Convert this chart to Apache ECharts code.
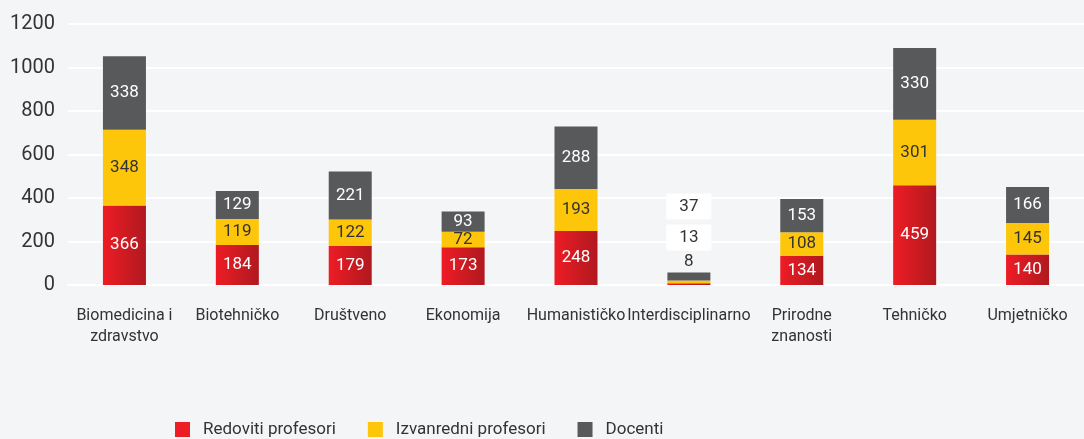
<html>
<head>
<meta charset="UTF-8">
<script src="https://cdn.jsdelivr.net/npm/echarts@6/dist/echarts.min.js"></script>
</head>
<body style="margin:0">
	<div id="barEcharts" style="height: 439px; width: 1084px"></div>
</body>
<script>
	var categories = ['Biomedicina i\nzdravstvo', 'Biotehničko', 'Društveno', 'Ekonomija', 'Humanističko',
			'Interdisciplinarno', 'Prirodne\nznanosti', 'Tehničko', 'Umjetničko'];
	var redoviti = [366, 184, 179, 173, 248, 8, 134, 459, 140];
	var izvanredni = [348, 119, 122, 72, 193, 13, 108, 301, 145];
	var docenti = [338, 129, 221, 93, 288, 37, 153, 330, 166];
	var yTicks = [0, 200, 400, 600, 800, 1000, 1200];

	var fontFamily = '"Liberation Sans Narrow", Roboto, sans-serif';
	// the small category gets its labels stacked above the bar
	var smallIdx = 5;

	function buildData(values, offsetY, boxed) {
		return values.map(function(v, i) {
			if (i !== smallIdx) return v;
			var lbl = {
				position : [ '50%', offsetY ],
				align : 'center',
				verticalAlign : 'middle',
				color : '#333'
			};
			if (boxed) {
				lbl.backgroundColor = '#ffffff';
				lbl.padding = [ 5, 13, 4, 13 ];
			}
			return { value : v, label : lbl };
		});
	}

	var barEcharts = echarts.init(document.getElementById('barEcharts'));
	var option = {
		backgroundColor : '#f4f5f6',
		textStyle : { fontFamily : fontFamily },
		grid : { left : 68, right : 0, top : 24, bottom : 154 },
		legend : {
			left : 170,
			bottom : -4,
			itemWidth : 15,
			itemHeight : 15,
			itemGap : 32,
			icon : 'rect',
			textStyle : { fontSize : 17, color : '#333', fontFamily : fontFamily, padding : [0, 0, 0, 8] },
			data : [
				{ name : 'Redoviti profesori', itemStyle : { color : '#ee1c25' } },
				{ name : 'Izvanredni profesori' },
				{ name : 'Docenti' } ]
		},
		xAxis : {
			type : 'category',
			data : categories,
			axisLine : { lineStyle : { color : '#ffffff', width : 2 } },
			axisTick : { show : false },
			axisLabel : { interval : 0, color : '#333', fontSize : 16, margin : 20, lineHeight : 21, fontFamily : fontFamily }
		},
		yAxis : {
			type : 'value',
			min : yTicks[0],
			max : yTicks[yTicks.length - 1],
			interval : 200,
			axisLabel : {
				color : '#333', fontSize : 20, margin : 13, fontFamily : fontFamily,
				formatter : function(v) { return String(v); }
			},
			splitLine : { lineStyle : { color : '#ffffff', width : 2 } }
		},
		series : [ {
			name : 'Redoviti profesori',
			type : 'bar',
			stack : 'total',
			barWidth : 43,
			itemStyle : {
				color : new echarts.graphic.LinearGradient(0, 0, 1, 0, [
					{ offset : 0, color : '#ee1c25' },
					{ offset : 1, color : '#b0191f' } ])
			},
			label : { show : true, position : 'inside', color : '#ffffff', fontSize : 17, fontFamily : fontFamily },
			data : buildData(redoviti, -22, false)
		}, {
			name : 'Izvanredni profesori',
			type : 'bar',
			stack : 'total',
			barWidth : 43,
			itemStyle : { color : '#fec60b' },
			label : { show : true, position : 'inside', color : '#333', fontSize : 17, fontFamily : fontFamily },
			data : buildData(izvanredni, -43, true)
		}, {
			name : 'Docenti',
			type : 'bar',
			stack : 'total',
			barWidth : 43,
			itemStyle : { color : '#58595b' },
			label : { show : true, position : 'inside', color : '#ffffff', fontSize : 17, fontFamily : fontFamily },
			data : buildData(docenti, -66, true)
		} ]
	};
	barEcharts.setOption(option);
</script>
</html>
